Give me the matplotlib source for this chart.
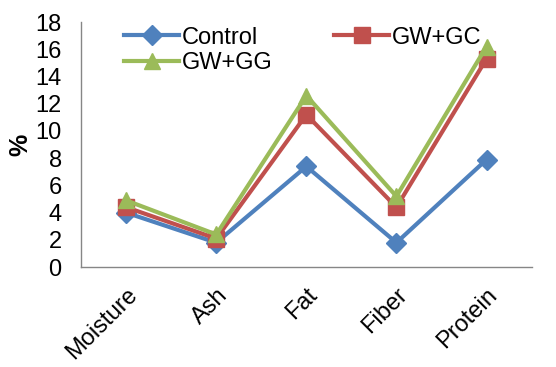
import numpy as np
import matplotlib.pyplot as plt

plt.rcParams['font.family'] = ['Liberation Sans', 'DejaVu Sans']

categories = ['Moisture', 'Ash', 'Fat', 'Fiber', 'Protein']
control = [4.0, 1.8, 7.4, 1.8, 7.9]
gw_gc = [4.4, 2.1, 11.2, 4.4, 15.3]
gw_gg = [4.9, 2.4, 12.6, 5.2, 16.2]

fig = plt.figure(figsize=(5.56, 3.67), dpi=100)
ax = fig.add_axes([0.146, 0.272, 0.81, 0.668])

x = np.arange(len(categories))
l1, = ax.plot(x, control, color='#4F81BD', lw=3, marker='D', ms=10, label='Control')
l2, = ax.plot(x, gw_gc, color='#C0504D', lw=3, marker='s', ms=11, label='GW+GC')
l3, = ax.plot(x, gw_gg, color='#9BBB59', lw=3, marker='^', ms=12, label='GW+GG')

ax.set_xlim(-0.5, len(categories) - 0.5)
ax.set_ylim(0, 18)
ax.set_yticks(range(0, 19, 2))
ax.set_xticks(x)
ax.set_xticklabels(categories, rotation=45, ha='right', rotation_mode='anchor')
ax.tick_params(axis='both', length=0, labelsize=17)
ax.tick_params(axis='y', pad=14)
ax.tick_params(axis='x', pad=12)
ax.set_ylabel('%', fontsize=18, fontweight='bold', labelpad=2)

for side in ['top', 'right']:
    ax.spines[side].set_visible(False)
for side in ['left', 'bottom']:
    ax.spines[side].set_color('#868686')
    ax.spines[side].set_linewidth(1)

ax.legend([l1, l3, l2], ['Control', 'GW+GG', 'GW+GC'], ncol=2, frameon=False,
          fontsize=17, loc='upper left', bbox_to_anchor=(0.075, 1.02),
          handlelength=2.3, handletextpad=0.15, columnspacing=2.6,
          labelspacing=0.15, borderaxespad=0)

fig.savefig('out.png', dpi=100)
